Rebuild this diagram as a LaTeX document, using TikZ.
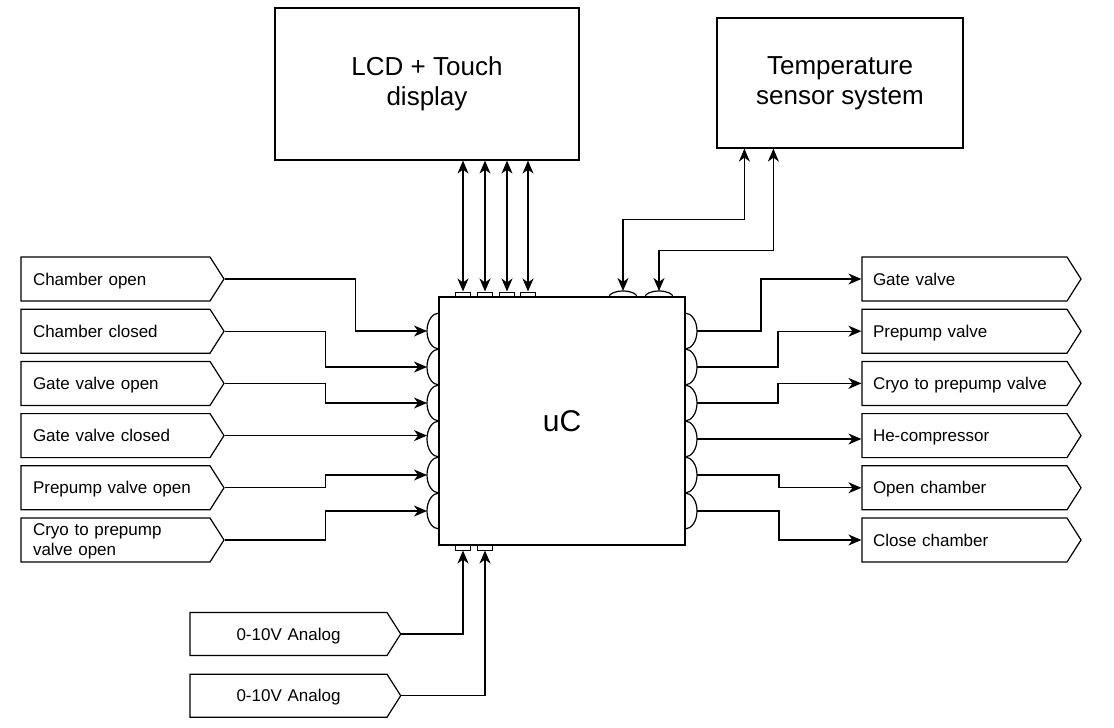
\documentclass[tikz,border=0pt]{standalone}
\usepackage{fontspec}
\setmainfont{Liberation Sans}
\usetikzlibrary{shapes.symbols, arrows.meta, positioning}

\begin{document}
\begin{tikzpicture}[x=1pt, y=-1pt,
    line width=1.2pt,
    node distance=7pt,
    every node/.style={font=\fontsize{17}{20}\selectfont},
    block/.style={rectangle, draw=black, line width=1.2pt, font=\fontsize{26}{30}\selectfont, align=center},
    insig/.style={signal, signal to=east, signal pointer angle=115, draw=black, line width=1.2pt, minimum height=44pt, inner xsep=12pt, inner ysep=2pt, text width=165pt, text depth=0pt, align=left},
    outsig/.style={insig, text width=183pt, inner xsep=11pt},
    ansig/.style={insig, text width=173pt, align=center, minimum height=43pt},
    pad/.style={rectangle, draw=black, line width=1pt, minimum width=15pt, minimum height=5pt, inner sep=0pt},
    port/.style={line width=1.2pt},
    arrow/.style={-{Stealth[length=13pt,width=11pt,inset=4pt]}, line width=1.2pt},
    biarrow/.style={{Stealth[length=13pt,width=11pt,inset=4pt]}-{Stealth[length=13pt,width=11pt,inset=4pt]}, line width=1.2pt}
]
\useasboundingbox (0,0) rectangle (1114,728);

% Main blocks
\node[block, minimum width=304pt, minimum height=152pt] (lcd) at (427,84) {LCD + Touch\\display};
\node[block, minimum width=246pt, minimum height=130pt] (temp) at (840,83) {Temperature\\sensor system};
\node[block, minimum width=246pt, minimum height=248pt, font=\fontsize{30}{36}\selectfont] (uc) at (562,421) {uC};

% Inputs (left column)
\node[insig] (chopen) at (115.5,279) {Chamber open};
\node[insig, below=of chopen] (chclosed) {Chamber closed};
\node[insig, below=of chclosed] (gvopen) {Gate valve open};
\node[insig, below=of gvopen] (gvclosed) {Gate valve closed};
\node[insig, below=of gvclosed] (ppopen) {Prepump valve open};
\node[insig, below=of ppopen, text depth=20pt] (cryoopen) {Cryo to prepump\\valve open};

% Outputs (right column)
\node[outsig] (gate) at (964.5,279) {Gate valve};
\node[outsig, below=of gate] (prepump) {Prepump valve};
\node[outsig, below=of prepump] (cryo) {Cryo to prepump valve};
\node[outsig, below=of cryo] (hecomp) {He-compressor};
\node[outsig, below=of hecomp] (opench) {Open chamber};
\node[outsig, below=of opench] (closech) {Close chamber};

% Analog inputs
\node[ansig] (analog1) at (288.5,634) {0-10V Analog};
\node[ansig, below=17.5pt of analog1] (analog2) {0-10V Analog};

% Ports on the uC
\foreach \i in {1,...,6} {
  \pgfmathsetmacro\py{295+36*\i}
  \draw[port] (439,\py+18) arc[start angle=90, end angle=270, x radius=12, y radius=18];
  \draw[port] (685,\py-18) arc[start angle=-90, end angle=90, x radius=12, y radius=18];
  \coordinate (pl\i) at (427,\py);
  \coordinate (pr\i) at (697,\py);
}
\foreach \i/\x in {1/623, 2/659} {
  \draw[port] (\x-14,297) arc[start angle=180, end angle=360, x radius=14, y radius=6];
  \coordinate (pt\i) at (\x,291);
}
\foreach \i/\x in {1/463, 2/485, 3/507, 4/528} {
  \node[pad] (tp\i) at (\x,294.5) {};
  \draw[biarrow] (lcd.south -| tp\i) -- (tp\i.north);
}
\foreach \i/\x in {1/463, 2/485} \node[pad] (bp\i) at (\x,547.5) {};

% Input arrows
\draw[arrow] (chopen.east) -- ++(131,0) |- (pl1);
\draw[arrow] (chclosed.east) -- ++(101,0) |- (pl2);
\draw[arrow] (gvopen.east) -- ++(101,0) |- (pl3);
\draw[arrow] (gvclosed.east) -- (gvclosed.east -| pl4);
\draw[arrow] (ppopen.east) -- ++(101,0) |- (pl5);
\draw[arrow] (cryoopen.east) -- ++(101,0) |- (pl6);

% Output arrows
\draw[arrow] (pr1) -- ++(64,0) |- (gate.west);
\draw[arrow] (pr2) -- ++(81,0) |- (prepump.west);
\draw[arrow] (pr3) -- ++(81,0) |- (cryo.west);
\draw[arrow] (pr4) -- (pr4 -| hecomp.west);
\draw[arrow] (pr5) -- ++(82,0) |- (opench.west);
\draw[arrow] (pr6) -- ++(82,0) |- (closech.west);

% Analog and sensor lines
\draw[arrow] (analog1.east) -| (bp1.south);
\draw[arrow] (analog2.east) -| (bp2.south);
\draw[biarrow] ([xshift=28pt]temp.south west) -- ++(0,71) -| (pt1);
\draw[biarrow] ([xshift=57pt]temp.south west) -- ++(0,102) -| (pt2);

\end{tikzpicture}
\end{document}
